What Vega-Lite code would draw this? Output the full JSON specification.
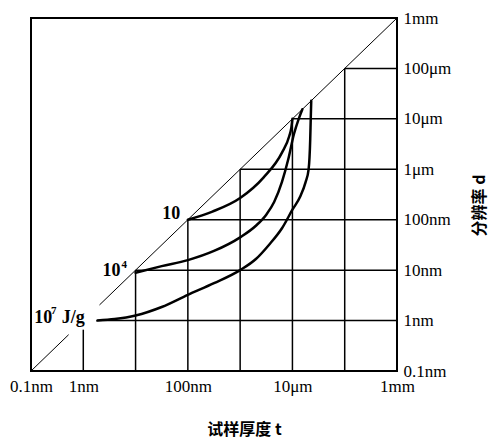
{
  "$schema": "https://vega.github.io/schema/vega-lite/v6.json",
  "width": 366,
  "height": 353,
  "autosize": {"type": "none"},
  "padding": {"left": 31, "top": 18, "right": 101, "bottom": 69},
  "background": "white",
  "config": {"view": {"stroke": "black", "strokeWidth": 2}},
  "datasets": {
    "curves": [
      {"curve": "10", "t": 1e-7, "d": 1e-7},
      {"curve": "10", "t": 2.95e-7, "d": 1.45e-7},
      {"curve": "10", "t": 1e-6, "d": 2.69e-7},
      {"curve": "10", "t": 2.82e-6, "d": 6.92e-7},
      {"curve": "10", "t": 6.31e-6, "d": 2.14e-6},
      {"curve": "10", "t": 8.71e-6, "d": 4.57e-6},
      {"curve": "10", "t": 9.55e-6, "d": 6.76e-6},
      {"curve": "10", "t": 1e-5, "d": 1e-5},
      {"curve": "1e4", "t": 1e-8, "d": 8.91e-9},
      {"curve": "1e4", "t": 3.16e-8, "d": 1.2e-8},
      {"curve": "1e4", "t": 1e-7, "d": 1.58e-8},
      {"curve": "1e4", "t": 3.16e-7, "d": 2.4e-8},
      {"curve": "1e4", "t": 1e-6, "d": 4.47e-8},
      {"curve": "1e4", "t": 2.0e-6, "d": 7.59e-8},
      {"curve": "1e4", "t": 3.16e-6, "d": 1.26e-7},
      {"curve": "1e4", "t": 4.47e-6, "d": 2.24e-7},
      {"curve": "1e4", "t": 6.31e-6, "d": 5.62e-7},
      {"curve": "1e4", "t": 8.32e-6, "d": 1.58e-6},
      {"curve": "1e4", "t": 1.07e-5, "d": 5.01e-6},
      {"curve": "1e4", "t": 1.32e-5, "d": 1e-5},
      {"curve": "1e4", "t": 1.55e-5, "d": 1.55e-5},
      {"curve": "1e7", "t": 1.86e-9, "d": 1e-9},
      {"curve": "1e7", "t": 3.98e-9, "d": 1.07e-9},
      {"curve": "1e7", "t": 1e-8, "d": 1.26e-9},
      {"curve": "1e7", "t": 3.16e-8, "d": 1.86e-9},
      {"curve": "1e7", "t": 1e-7, "d": 3.24e-9},
      {"curve": "1e7", "t": 3.16e-7, "d": 5.5e-9},
      {"curve": "1e7", "t": 1e-6, "d": 1e-8},
      {"curve": "1e7", "t": 2.0e-6, "d": 1.66e-8},
      {"curve": "1e7", "t": 3.55e-6, "d": 3.16e-8},
      {"curve": "1e7", "t": 6.31e-6, "d": 6.76e-8},
      {"curve": "1e7", "t": 1e-5, "d": 1.58e-7},
      {"curve": "1e7", "t": 1.41e-5, "d": 2.88e-7},
      {"curve": "1e7", "t": 1.78e-5, "d": 5.5e-7},
      {"curve": "1e7", "t": 2.04e-5, "d": 1e-6},
      {"curve": "1e7", "t": 2.19e-5, "d": 3.98e-6},
      {"curve": "1e7", "t": 2.24e-5, "d": 1e-5},
      {"curve": "1e7", "t": 2.29e-5, "d": 2.29e-5}
    ],
    "grid": [
      {"t": 1e-9, "t2": 1e-9, "d": 1e-10, "d2": 6.6e-10},
      {"t": 1e-8, "t2": 1e-8, "d": 1e-10, "d2": 1e-8},
      {"t": 1e-7, "t2": 1e-7, "d": 1e-10, "d2": 1e-7},
      {"t": 1e-6, "t2": 1e-6, "d": 1e-10, "d2": 1e-6},
      {"t": 1e-5, "t2": 1e-5, "d": 1e-10, "d2": 1e-5},
      {"t": 1e-4, "t2": 1e-4, "d": 1e-10, "d2": 1e-4},
      {"t": 1.86e-9, "t2": 1e-3, "d": 1e-9, "d2": 1e-9},
      {"t": 1e-8, "t2": 1e-3, "d": 1e-8, "d2": 1e-8},
      {"t": 1e-7, "t2": 1e-3, "d": 1e-7, "d2": 1e-7},
      {"t": 1e-6, "t2": 1e-3, "d": 1e-6, "d2": 1e-6},
      {"t": 1e-5, "t2": 1e-3, "d": 1e-5, "d2": 1e-5},
      {"t": 1e-4, "t2": 1e-3, "d": 1e-4, "d2": 1e-4}
    ],
    "diagonal": [
      {"t": 1e-10, "t2": 5.25e-10, "d": 1e-10, "d2": 5.25e-10},
      {"t": 2.04e-9, "t2": 1e-3, "d": 2.04e-9, "d2": 1e-3}
    ],
    "labels": [
      {"text": "10", "t": 3.24e-8, "d": 1.05e-7},
      {"text": "10", "t": 2.34e-9, "d": 7.59e-9},
      {"text": "10", "t": 1.15e-10, "d": 9.12e-10},
      {"text": "J/g", "t": 3.89e-10, "d": 9.12e-10}
    ],
    "supers": [
      {"text": "4", "t": 5.37e-9, "d": 1.1e-8},
      {"text": "7", "t": 2.4e-10, "d": 1.32e-9}
    ]
  },
  "encoding": {
    "x": {
      "field": "t",
      "type": "quantitative",
      "scale": {"type": "log", "domain": [1e-10, 1e-3], "nice": false},
      "axis": {
        "orient": "bottom",
        "values": [1e-10, 1e-9, 1e-7, 1e-5, 1e-3],
        "labelExpr": "['0.1nm','1nm','10nm','100nm','1μm','10μm','100μm','1mm'][round(log(datum.value)/LN10)+10]",
        "ticks": false,
        "domain": false,
        "grid": false,
        "labelFont": "Liberation Serif",
        "labelFontSize": 17,
        "labelColor": "black",
        "labelPadding": 7,
        "labelFlush": false,
        "labelOverlap": false,
        "title": "试样厚度 t",
        "titleFont": "Noto Sans CJK SC",
        "titleFontSize": 16,
        "titleFontWeight": "bold",
        "titleColor": "black",
        "titleX": 213,
        "titleY": 58,
        "titleAlign": "center",
        "titleBaseline": "middle"
      }
    },
    "y": {
      "field": "d",
      "type": "quantitative",
      "scale": {"type": "log", "domain": [1e-10, 1e-3], "nice": false},
      "axis": {
        "orient": "right",
        "values": [1e-10, 1e-9, 1e-8, 1e-7, 1e-6, 1e-5, 1e-4, 1e-3],
        "labelExpr": "['0.1nm','1nm','10nm','100nm','1μm','10μm','100μm','1mm'][round(log(datum.value)/LN10)+10]",
        "ticks": false,
        "domain": false,
        "grid": false,
        "labelFont": "Liberation Serif",
        "labelFontSize": 17,
        "labelColor": "black",
        "labelPadding": 6,
        "labelAlign": "left",
        "labelBaseline": "middle",
        "labelFlush": false,
        "labelOverlap": false,
        "title": "分辨率 d",
        "titleFont": "Noto Sans CJK SC",
        "titleFontSize": 16,
        "titleFontWeight": "bold",
        "titleColor": "black",
        "titleAngle": 270,
        "titleX": 82,
        "titleY": 187,
        "titleAlign": "center",
        "titleBaseline": "middle"
      }
    }
  },
  "layer": [
    {
      "data": {"name": "grid"},
      "mark": {"type": "rule", "color": "black", "strokeWidth": 1.5},
      "encoding": {"x2": {"field": "t2"}, "y2": {"field": "d2"}}
    },
    {
      "data": {"name": "diagonal"},
      "mark": {"type": "rule", "color": "black", "strokeWidth": 1},
      "encoding": {"x2": {"field": "t2"}, "y2": {"field": "d2"}}
    },
    {
      "data": {"name": "curves"},
      "mark": {"type": "line", "color": "black", "strokeWidth": 2.5, "interpolate": "monotone", "strokeCap": "round"},
      "encoding": {"detail": {"field": "curve"}}
    },
    {
      "data": {"name": "labels"},
      "mark": {"type": "text", "font": "Liberation Serif", "fontSize": 18, "fontWeight": "bold", "align": "left", "baseline": "alphabetic", "color": "black"},
      "encoding": {"text": {"field": "text"}}
    },
    {
      "data": {"name": "supers"},
      "mark": {"type": "text", "font": "Liberation Serif", "fontSize": 11, "fontWeight": "bold", "align": "left", "baseline": "alphabetic", "color": "black"},
      "encoding": {"text": {"field": "text"}}
    }
  ]
}
